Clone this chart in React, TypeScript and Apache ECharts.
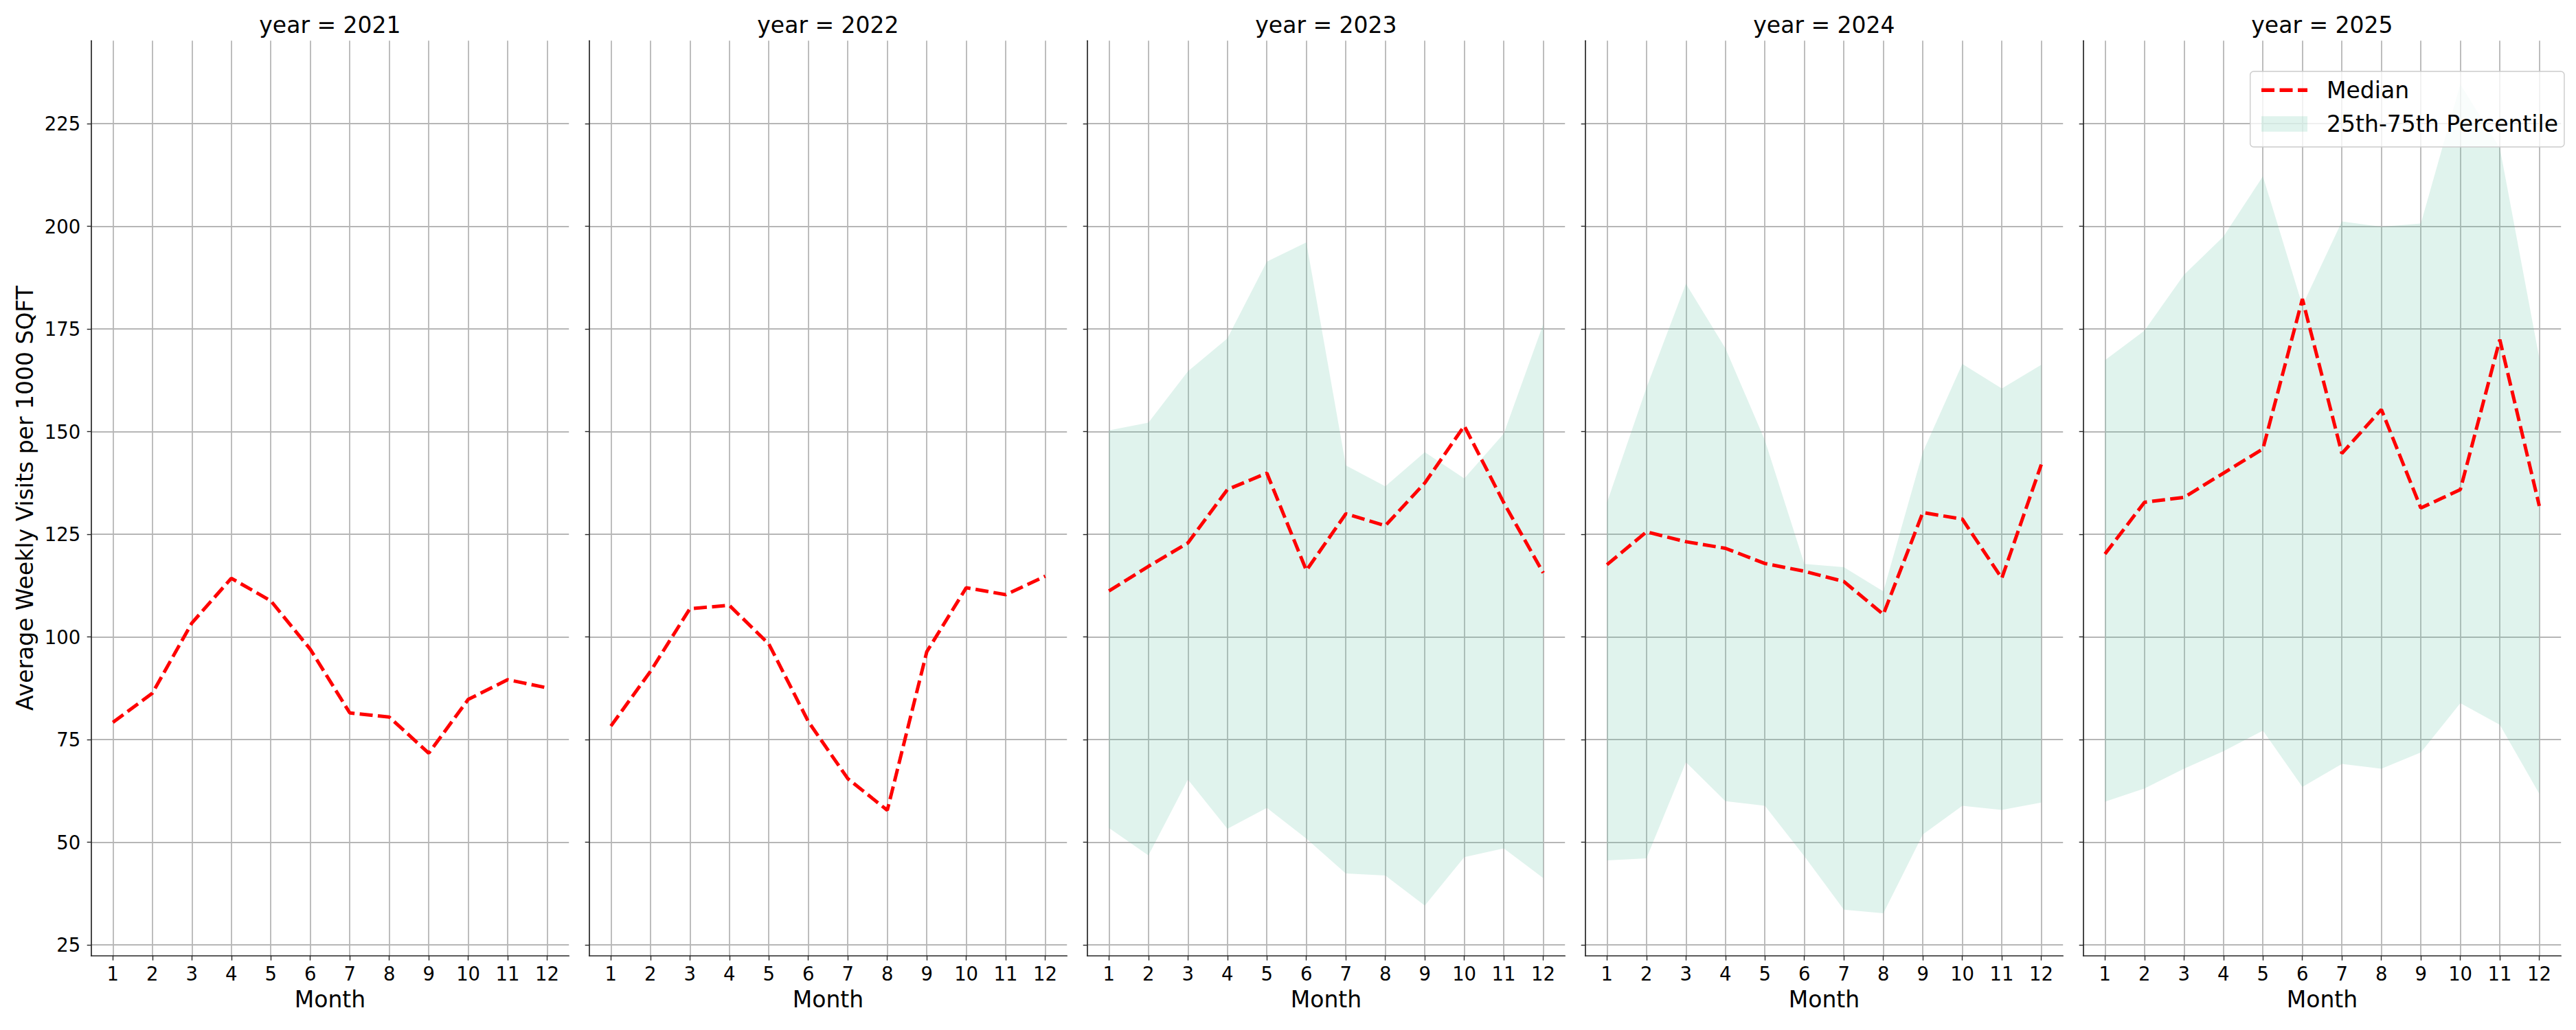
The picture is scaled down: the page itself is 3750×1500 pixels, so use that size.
import { useRef, useEffect } from 'react'
import * as echarts from 'echarts'

const years = [2021, 2022, 2023, 2024, 2025]
const months = [1, 2, 3, 4, 5, 6, 7, 8, 9, 10, 11, 12]
const yTicks = [25, 50, 75, 100, 125, 150, 175, 200, 225]

const median2021 = [79.2, 86.3, 103.4, 114.3, 108.8, 97.0, 81.5, 80.5, 71.7, 84.8, 89.6, 87.6]
const median2022 = [78.3, 91.6, 106.9, 107.7, 98.3, 79.4, 65.5, 57.8, 96.4, 112.0, 110.3, 114.8]
const median2023 = [111.2, 117.2, 122.9, 135.9, 139.9, 116.2, 130.0, 127.1, 137.5, 151.4, 132.7, 115.6]
const median2024 = [117.6, 125.6, 123.2, 121.6, 117.9, 116.0, 113.5, 105.5, 130.3, 128.7, 114.3, 142.0]
const median2025 = [120.2, 132.8, 134.0, 139.9, 145.8, 182.3, 144.7, 155.4, 131.4, 135.9, 172.4, 131.9]

const p25_2023 = [53.5, 46.8, 65.3, 53.3, 58.4, 50.9, 42.4, 41.9, 34.6, 46.4, 48.5, 41.3]
const p75_2023 = [150.3, 152.2, 164.7, 172.7, 191.4, 196.1, 141.8, 136.7, 145.0, 138.6, 149.5, 176.2]
const p25_2024 = [45.6, 46.1, 69.5, 60.0, 58.9, 46.6, 33.6, 32.7, 51.9, 58.9, 57.9, 59.7]
const p75_2024 = [132.7, 160.7, 186.0, 170.3, 147.9, 117.8, 117.0, 111.1, 145.0, 166.5, 160.5, 166.3]
const p25_2025 = [59.9, 63.1, 67.9, 72.2, 77.2, 63.5, 69.1, 67.9, 71.9, 83.9, 78.6, 61.8]
const p75_2025 = [167.4, 174.6, 188.2, 197.5, 212.2, 180.7, 201.2, 199.9, 200.7, 234.6, 219.1, 167.9]

const medians = [median2021, median2022, median2023, median2024, median2025]
const lowers = [null, null, p25_2023, p25_2024, p25_2025]
const uppers = [null, null, p75_2023, p75_2024, p75_2025]

const PANEL_LEFT = 132.7
const PANEL_STEP = 725
const PANEL_WIDTH = 695.5
const PANEL_TOP = 59.3
const PANEL_HEIGHT = 1332.4
const X_MIN = 0.45
const X_MAX = 12.55
const Y_MIN = 22.4
const Y_MAX = 245.2

const FONT = 'DejaVu Sans'
const SPINE = '#262626'
const GRID = '#b6b6b6'
const BAND = 'rgba(102,194,165,0.2)'
const RED = '#ff0000'
const DASH = [19, 7.5]

export default function App() {
  const containerRef = useRef<HTMLDivElement>(null)

  useEffect(() => {
    const el = containerRef.current
    if (!el) return
    const chart = echarts.init(el, null, { renderer: 'svg' })

    const grids = years.map((_, i) => ({
      left: PANEL_LEFT + i * PANEL_STEP,
      top: PANEL_TOP,
      width: PANEL_WIDTH,
      height: PANEL_HEIGHT
    }))

    const xAxes = years.map((_, i) => ({
      gridIndex: i,
      type: 'value',
      min: X_MIN,
      max: X_MAX,
      name: 'Month',
      nameLocation: 'middle',
      nameGap: 47,
      nameTextStyle: { fontFamily: FONT, fontSize: 33, color: '#000' },
      axisLine: { show: true, onZero: false, lineStyle: { color: SPINE, width: 1.7 } },
      axisTick: { show: true, length: 7, customValues: months, lineStyle: { color: SPINE, width: 1.4 } },
      axisLabel: { show: true, customValues: months, margin: 12, fontFamily: FONT, fontSize: 27.5, color: '#000' },
      splitLine: { show: true, lineStyle: { color: GRID, width: 1.8 } }
    }))

    const yAxes = years.map((_, i) => ({
      gridIndex: i,
      type: 'value',
      min: Y_MIN,
      max: Y_MAX,
      axisLine: { show: true, onZero: false, lineStyle: { color: SPINE, width: 1.7 } },
      axisTick: { show: true, length: 6, customValues: yTicks, lineStyle: { color: SPINE, width: 1.4 } },
      axisLabel: { show: i === 0, customValues: yTicks, margin: 15.4, fontFamily: FONT, fontSize: 27.5, color: '#000' },
      splitLine: { show: true, lineStyle: { color: GRID, width: 1.8 } }
    }))

    const series: any[] = []
    years.forEach((_, i) => {
      const lo = lowers[i]
      const hi = uppers[i]
      if (lo && hi) {
        // 25th-75th band: one polygon through the axis scales
        series.push({
          type: 'custom',
          name: '25th-75th Percentile',
          xAxisIndex: i,
          yAxisIndex: i,
          data: months.map((m, k) => [m, lo[k], hi[k]]),
          encode: { x: 0, y: [1, 2] },
          itemStyle: { color: BAND },
          silent: true,
          z: 2,
          renderItem: (params: any, api: any) => {
            if (params.dataIndex !== 0) return { type: 'group', children: [] }
            const top = months.map((m, k) => api.coord([m, hi[k]]))
            const bottom = months.map((m, k) => api.coord([m, lo[k]])).reverse()
            return {
              type: 'polygon',
              shape: { points: [...top, ...bottom] },
              style: { fill: BAND }
            }
          }
        })
      }
      series.push({
        type: 'line',
        name: 'Median',
        xAxisIndex: i,
        yAxisIndex: i,
        data: months.map((m, k) => [m, medians[i][k]]),
        symbol: 'none',
        lineStyle: { color: RED, width: 5, type: DASH },
        itemStyle: { color: RED },
        z: 4
      })
    })

    const graphic: any[] = years.map((y, i) => ({
      type: 'text',
      x: PANEL_LEFT + i * PANEL_STEP + PANEL_WIDTH / 2,
      y: 36,
      style: {
        text: `year = ${y}`,
        fontFamily: FONT,
        fontSize: 33,
        fill: '#000',
        align: 'center',
        verticalAlign: 'middle'
      }
    }))
    graphic.push({
      type: 'text',
      x: 36.5,
      y: PANEL_TOP + PANEL_HEIGHT / 2,
      rotation: Math.PI / 2,
      style: {
        text: 'Average Weekly Visits per 1000 SQFT',
        fontFamily: FONT,
        fontSize: 33,
        fill: '#000',
        align: 'center',
        verticalAlign: 'middle'
      }
    })

    chart.setOption({
      animation: false,
      backgroundColor: '#fff',
      grid: grids,
      xAxis: xAxes,
      yAxis: yAxes,
      series,
      graphic,
      legend: {
        orient: 'vertical',
        left: 3275.7,
        top: 104,
        padding: [10.8, 9, 17, 13.6],
        itemGap: 16.2,
        itemWidth: 67,
        itemHeight: 22.4,
        backgroundColor: 'rgba(255,255,255,0.8)',
        borderColor: '#cccccc',
        borderWidth: 1.4,
        borderRadius: 5,
        selectedMode: false,
        z: 10,
        textStyle: { fontFamily: FONT, fontSize: 33, lineHeight: 33, color: '#000', padding: [0, 0, 0, 23] },
        data: [
          { name: 'Median', itemStyle: { opacity: 0 }, lineStyle: { width: 5.5, color: RED, type: DASH } },
          { name: '25th-75th Percentile', icon: 'rect', itemStyle: { color: BAND, borderWidth: 0 } }
        ]
      }
    })

    return () => {
      chart.dispose()
    }
  }, [])

  return (
    <div
      ref={containerRef}
      style={{ position: 'absolute', left: 0, top: 0, width: 3750, height: 1500 }}
    />
  )
}
